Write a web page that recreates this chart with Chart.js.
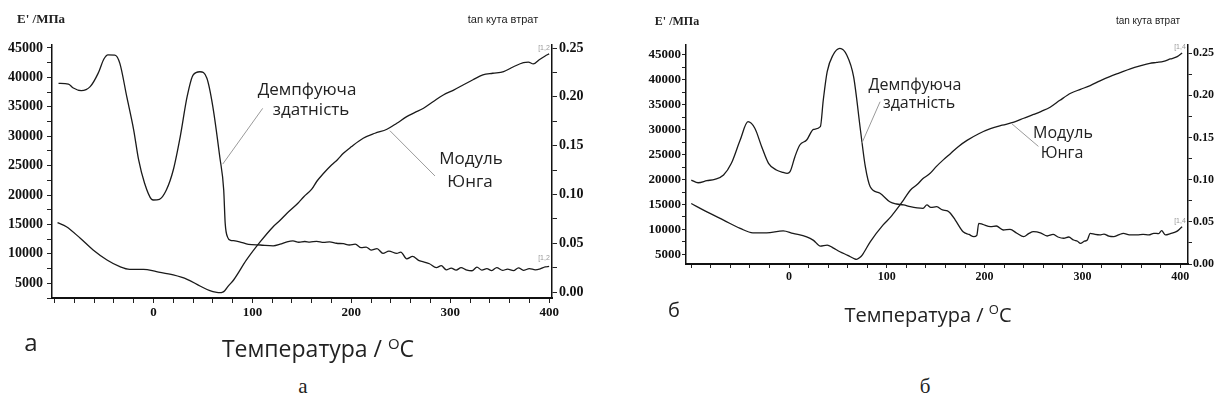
<!DOCTYPE html>
<html>
<head>
<meta charset="utf-8">
<script src="https://cdn.jsdelivr.net/npm/chart.js@4.4.0/dist/chart.umd.min.js"></script>
<style>
    body { margin: 0; width: 1221px; height: 407px; background: #fff; position: relative; overflow: hidden; font-family: "Open Sans", sans-serif; color: #222; }
    canvas { position: absolute; top: 0; }
    .t { position: absolute; white-space: nowrap; transform: translate(-50%, -50%); line-height: 1; }
    .serif { font-family: "Liberation Serif", serif; }
    .sans { font-family: "Liberation Sans", sans-serif; }
    .tiny { font-family: "Liberation Sans", sans-serif; font-size: 7px; color: #999; }
    sup { font-size: 0.65em; vertical-align: 0.55em; }
</style>
</head>
<body>
<canvas id="chartA" width="600" height="330" style="left:0"></canvas>
<canvas id="chartB" width="621" height="300" style="left:600px"></canvas>

<!-- panel a texts -->
<div class="t serif" style="left:41px;top:18px;font-size:13px;font-weight:bold">E' /МПа</div>
<div class="t sans" style="left:503px;top:19px;font-size:11px">tan кута втрат</div>
<div class="t" style="left:307px;top:88px;font-size:17px">Демпфуюча</div>
<div class="t" style="left:311px;top:108px;font-size:17px">здатність</div>
<div class="t" style="left:471px;top:157px;font-size:17px">Модуль</div>
<div class="t" style="left:470px;top:180px;font-size:17px">Юнга</div>
<div class="t tiny" style="left:544px;top:47px">[1,2</div>
<div class="t tiny" style="left:544px;top:257px">[1,2</div>
<div class="t" style="left:31px;top:342px;font-size:24px">а</div>
<div class="t" style="left:318px;top:348px;font-size:23px">Температура / <sup>O</sup>C</div>
<div class="t serif" style="left:303px;top:386px;font-size:21px">а</div>

<!-- panel b texts -->
<div class="t serif" style="left:677px;top:21px;font-size:12px;font-weight:bold">E' /МПа</div>
<div class="t sans" style="left:1148px;top:21px;font-size:10px">tan кута втрат</div>
<div class="t" style="left:915px;top:84px;font-size:16px">Демпфуюча</div>
<div class="t" style="left:919px;top:102px;font-size:16px">здатність</div>
<div class="t" style="left:1063px;top:132px;font-size:16px">Модуль</div>
<div class="t" style="left:1062px;top:152px;font-size:16px">Юнга</div>
<div class="t tiny" style="left:1180px;top:46px">[1,4</div>
<div class="t tiny" style="left:1180px;top:220px">[1,4</div>
<div class="t" style="left:674px;top:310px;font-size:20px">б</div>
<div class="t" style="left:928px;top:314px;font-size:20px">Температура / <sup>O</sup>C</div>
<div class="t serif" style="left:925px;top:386px;font-size:21px">б</div>

<script>
// ---- panel a: loss tangent (right axis) ----
const aTanTemp = [-96, -86, -81, -73, -64, -56, -50, -46, -39, -34, -27, -20, -15, -9, -2, 0, 6, 13, 20, 27, 34, 40, 47, 54, 60, 67, 71, 72.5, 75, 78, 81, 87, 96, 108, 121, 128, 135, 141, 147, 153, 158, 165, 172, 178, 185, 192, 198, 204, 210, 215, 220, 226, 232, 238, 246, 250, 256, 262, 268, 273, 279, 286, 291, 296, 301, 306, 311, 316, 322, 327, 332, 337, 342, 347, 353, 358, 364, 369, 374, 380, 386, 391, 396, 400];
const aTanVals = [0.2138, 0.2131, 0.2090, 0.2063, 0.2104, 0.2240, 0.2390, 0.2430, 0.2428, 0.2343, 0.2001, 0.1660, 0.1353, 0.1114, 0.0950, 0.0943, 0.0950, 0.1045, 0.1250, 0.1590, 0.2001, 0.2223, 0.2257, 0.2190, 0.1900, 0.1386, 0.1045, 0.0704, 0.0560, 0.0530, 0.0526, 0.0515, 0.0489, 0.0482, 0.0474, 0.0490, 0.0515, 0.0525, 0.0510, 0.0518, 0.0512, 0.0520, 0.0508, 0.0515, 0.0500, 0.0495, 0.0482, 0.0490, 0.0455, 0.0460, 0.0430, 0.0445, 0.0396, 0.0420, 0.0396, 0.0410, 0.0340, 0.0365, 0.0325, 0.0310, 0.0290, 0.0250, 0.0270, 0.0228, 0.0245, 0.0225, 0.0250, 0.0228, 0.0218, 0.0255, 0.0225, 0.0240, 0.0220, 0.0250, 0.0222, 0.0235, 0.0220, 0.0248, 0.0222, 0.0240, 0.0228, 0.0238, 0.0258, 0.0262];

// ---- panel a: Young's modulus (left axis) ----
const aModTemp = [-97, -88, -74, -61, -47, -34, -24, -10, 3, 20, 34, 47, 57, 64, 67, 70, 72, 76, 81, 94, 108, 121, 128, 135, 146, 152, 160, 165, 172, 180, 186, 192, 200, 212, 224, 236, 246, 256, 264, 273, 283, 293, 303, 313, 323, 333, 343, 354, 364, 374, 379, 384, 390, 396, 400];
const aModVals = [15300, 14620, 12650, 10660, 8960, 7830, 7380, 7380, 6970, 6410, 5680, 4540, 3740, 3450, 3400, 3500, 3740, 4600, 5560, 8960, 12070, 14620, 15700, 16900, 18600, 19720, 21000, 22300, 23700, 25100, 26000, 27100, 28200, 29650, 30500, 31180, 32200, 33320, 34000, 34750, 35900, 37010, 37800, 38700, 39600, 40410, 40700, 40970, 41800, 42500, 42600, 42280, 43000, 43640, 44000];

// ---- panel b: loss tangent (right axis) ----
const bTanTemp = [-100, -93, -84, -76, -67, -59, -50, -42, -35, -28, -21, -13, -6, -2, 1, 6, 11, 18, 25, 32, 35, 39, 45, 52, 59, 66, 73, 78, 83, 93, 103, 110, 117, 124, 131, 137, 141, 145, 151, 157, 162, 165, 170, 178, 184, 189, 192, 194, 198, 206, 212, 219, 226, 233, 240, 245, 250, 257, 264, 270, 275, 281, 286, 291, 295, 298, 302, 305, 308, 313, 318, 322, 327, 332, 337, 342, 348, 356, 362, 368, 373, 378, 381, 385, 390, 396, 400, 402];
const bTanVals = [0.0995, 0.0963, 0.0987, 0.1004, 0.1055, 0.1193, 0.1469, 0.1686, 0.1608, 0.1390, 0.1193, 0.1114, 0.1085, 0.1075, 0.1094, 0.1272, 0.1410, 0.1469, 0.1596, 0.1627, 0.1943, 0.2279, 0.2477, 0.2556, 0.2477, 0.2220, 0.1588, 0.1153, 0.0916, 0.0838, 0.0738, 0.0711, 0.0700, 0.0679, 0.0665, 0.0660, 0.0700, 0.0670, 0.0679, 0.0640, 0.0630, 0.0601, 0.0521, 0.0383, 0.0350, 0.0324, 0.0340, 0.0482, 0.0470, 0.0442, 0.0450, 0.0403, 0.0410, 0.0364, 0.0324, 0.0360, 0.0383, 0.0370, 0.0332, 0.0350, 0.0320, 0.0305, 0.0320, 0.0284, 0.0270, 0.0245, 0.0270, 0.0284, 0.0364, 0.0350, 0.0344, 0.0355, 0.0330, 0.0324, 0.0345, 0.0364, 0.0345, 0.0344, 0.0350, 0.0345, 0.0364, 0.0360, 0.0395, 0.0344, 0.0360, 0.0383, 0.0420, 0.0442];

// ---- panel b: Young's modulus (left axis) ----
const bModTemp = [-100, -84, -67, -50, -37, -23, -6, 4, 18, 25, 32, 39, 45, 52, 60, 67, 69, 72, 75, 83, 96, 104, 110, 117, 124, 131, 137, 144, 151, 158, 165, 173, 182, 194, 206, 218, 230, 240, 250, 258, 267, 277, 288, 298, 308, 318, 328, 338, 349, 359, 369, 376, 383, 390, 397, 402];
const bModVals = [15200, 13520, 11860, 10200, 9320, 9320, 9720, 9200, 8520, 7800, 6660, 6860, 6300, 5520, 4800, 4100, 4000, 4300, 4900, 7520, 10860, 12500, 14000, 15900, 17860, 19000, 20200, 21200, 22700, 24000, 25200, 26600, 27860, 29200, 30200, 30900, 31520, 32300, 33060, 33700, 34520, 35900, 37320, 38100, 38860, 39800, 40660, 41400, 42200, 42800, 43320, 43500, 43720, 44200, 44660, 45400];

// tick steps: [minor, labelled]
const tempSteps = [20, 100];
const modSteps = [2500, 5000];
const tanSteps = [0.025, 0.05];

// leader lines of the annotations, in data units [temp, value]
const aLeaderDamp = [[110.4, 0.1882], [70, 0.1311]];
const aLeaderMod = [[239, 30940], [284.6, 23240]];
const bLeaderDamp = [[93.1, 0.1923], [74.4, 0.143]];
const bLeaderMod = [[227.8, 31200], [255, 26660]];

function toPoints(xs, ys) {
    return xs.map((x, i) => ({ x: x, y: ys[i] }));
}

function isMult(v, step) {
    return Math.abs(v / step - Math.round(v / step)) < 1e-6;
}

// ticks on every multiple of the minor step inside the axis range
function stepTicks(step) {
    return function (scale) {
        const out = [];
        const first = Math.ceil(scale.min / step - 1e-9);
        for (let k = first; k * step <= scale.max + 1e-9; k++) {
            out.push({ value: +(k * step).toFixed(6) });
        }
        scale.ticks = out;
    };
}

const leaderPlugin = {
    id: 'leaders',
    afterDatasetsDraw(chart, args, opts) {
        const ctx = chart.ctx;
        ctx.save();
        ctx.strokeStyle = '#9a9a9a';
        ctx.lineWidth = 1;
        opts.lines.forEach(l => {
            const xs = chart.scales.x, ys = chart.scales[l.axis];
            ctx.beginPath();
            ctx.moveTo(xs.getPixelForValue(l.pts[0][0]), ys.getPixelForValue(l.pts[0][1]));
            ctx.lineTo(xs.getPixelForValue(l.pts[1][0]), ys.getPixelForValue(l.pts[1][1]));
            ctx.stroke();
        });
        ctx.restore();
    }
};

function makeChart(id, p) {
    const font = size => ({ family: 'Liberation Serif', weight: 'bold', size: size });
    const axisGrid = () => ({ drawOnChartArea: false, tickLength: p.tickLen, tickColor: '#222' });
    return new Chart(document.getElementById(id), {
        type: 'line',
        data: {
            datasets: [
                { data: toPoints(p.tanT, p.tanV), yAxisID: 'y2', borderColor: '#1a1a1a', borderWidth: 1.3, pointRadius: 0, cubicInterpolationMode: 'monotone' },
                { data: toPoints(p.modT, p.modV), yAxisID: 'y', borderColor: '#1a1a1a', borderWidth: 1.3, pointRadius: 0, cubicInterpolationMode: 'monotone' }
            ]
        },
        options: {
            responsive: false,
            animation: false,
            layout: { padding: { top: 45, left: 0, right: 0, bottom: 0 } },
            plugins: {
                legend: { display: false },
                tooltip: { enabled: false },
                leaders: { lines: p.leaders }
            },
            scales: {
                x: {
                    type: 'linear', min: p.xMin, max: p.xMax,
                    grid: axisGrid(),
                    border: { color: '#111', width: 2 },
                    afterBuildTicks: stepTicks(tempSteps[0]),
                    ticks: {
                        autoSkip: false, maxRotation: 0,
                        padding: 2, color: '#111', font: font(p.xFont),
                        callback: v => (v >= 0 && isMult(v, tempSteps[1])) ? String(v) : ''
                    },
                    afterFit: s => { s.height = p.xH; }
                },
                y: {
                    position: 'left', min: p.yMin, max: p.yMax,
                    grid: axisGrid(),
                    border: { color: '#111', width: 1.5 },
                    afterBuildTicks: stepTicks(modSteps[0]),
                    ticks: {
                        autoSkip: false,
                        padding: p.lPad, color: '#111', font: font(p.lFont),
                        callback: v => isMult(v, modSteps[1]) ? String(v) : ''
                    },
                    afterFit: s => { s.width = p.yW; }
                },
                y2: {
                    position: 'right', min: p.y2Min, max: p.y2Max,
                    grid: axisGrid(),
                    border: { color: '#111', width: 1.5 },
                    afterBuildTicks: stepTicks(tanSteps[0]),
                    ticks: {
                        autoSkip: false,
                        padding: p.rPad, color: '#111', font: font(p.rFont),
                        callback: v => isMult(v, tanSteps[1]) ? v.toFixed(2) : ''
                    },
                    afterFit: s => { s.width = p.y2W; }
                }
            }
        },
        plugins: [leaderPlugin]
    });
}

makeChart('chartA', {
    tanT: aTanTemp, tanV: aTanVals, modT: aModTemp, modV: aModVals,
    xMin: -102.6, xMax: 402.9, yMin: 2500, yMax: 45500, y2Min: -0.0061, y2Max: 0.2531,
    yW: 52, y2W: 48, xH: 32, tickLen: 5, xFont: 13, lFont: 14, rFont: 14, lPad: 4, rPad: 2,
    leaders: [{ axis: 'y2', pts: aLeaderDamp }, { axis: 'y', pts: aLeaderMod }]
});

makeChart('chartB', {
    tanT: bTanTemp, tanV: bTanVals, modT: bModTemp, modV: bModVals,
    xMin: -105.4, xMax: 408, yMin: 3060, yMax: 47000, y2Min: 0, y2Max: 0.2595,
    yW: 86, y2W: 33, xH: 36, tickLen: 4, xFont: 12, lFont: 13, rFont: 12, lPad: 1, rPad: 1,
    leaders: [{ axis: 'y2', pts: bLeaderDamp }, { axis: 'y', pts: bLeaderMod }]
});
</script>
</body>
</html>
